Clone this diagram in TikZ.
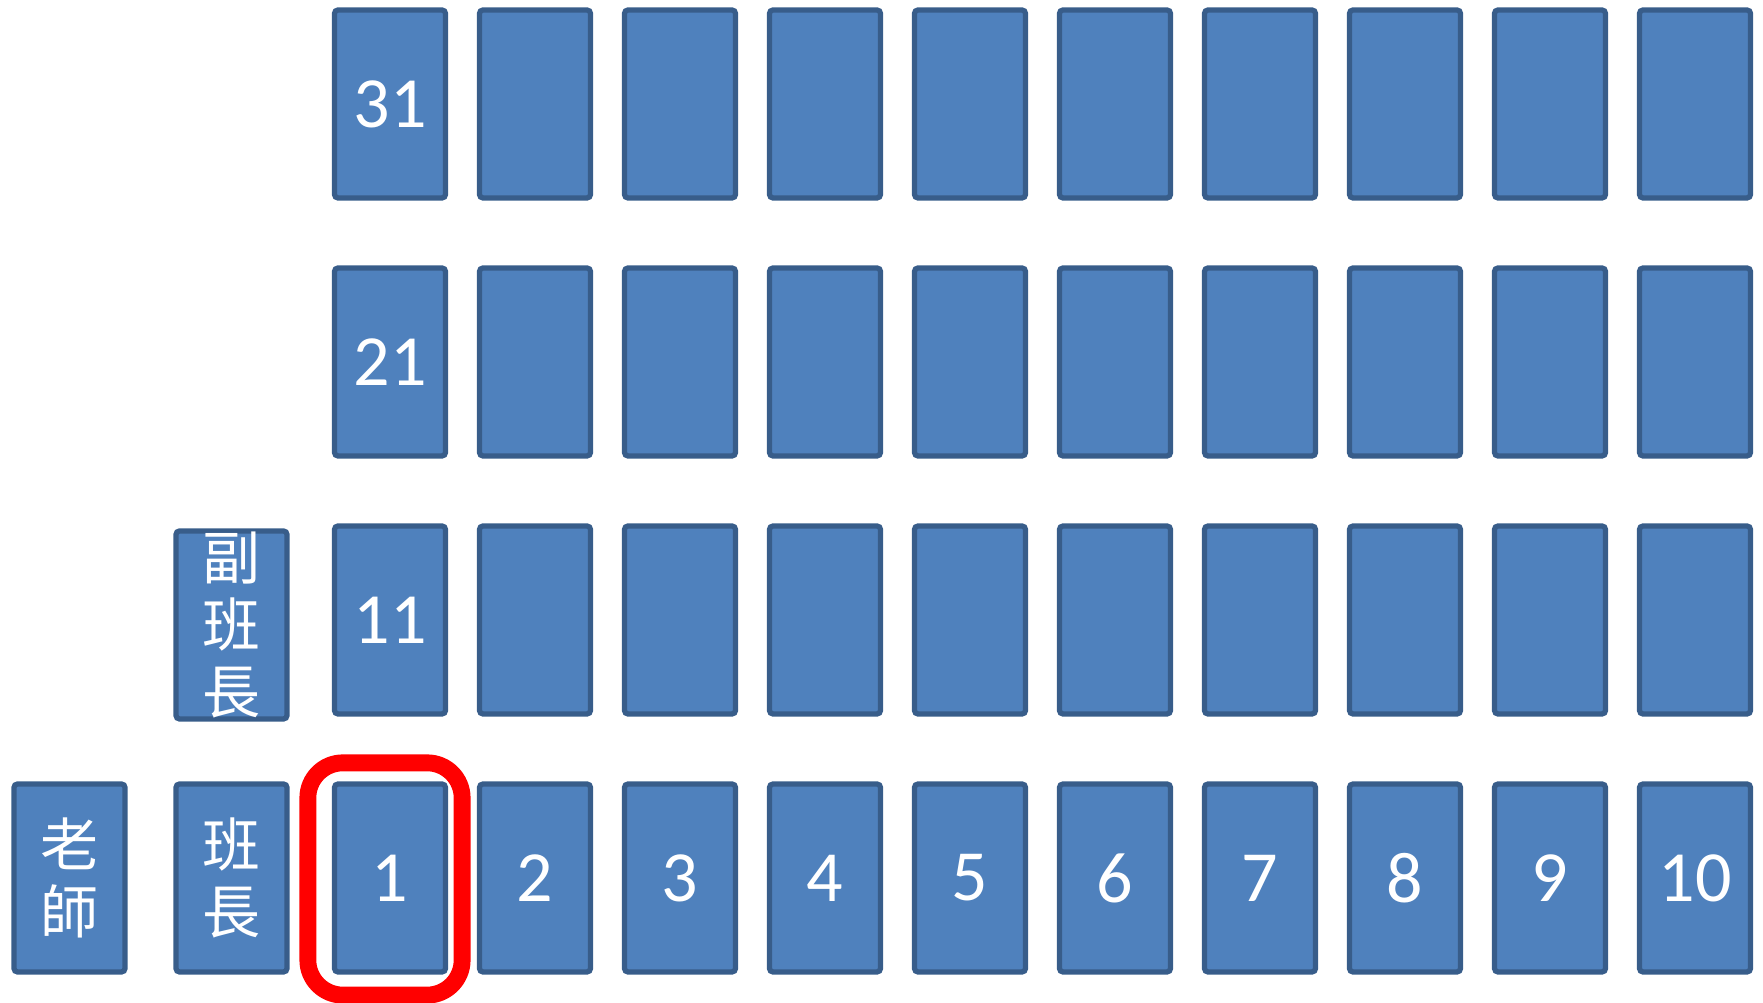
\documentclass[tikz,border=0pt]{standalone}
\usepackage{fontspec}
\setmainfont{Carlito}
\newfontfamily\cjk{Noto Sans CJK TC}
\usepackage{tikz}
\usetikzlibrary{positioning,calc}
\definecolor{seatblue}{HTML}{4F81BD}
\definecolor{seatedge}{HTML}{385D8A}
\tikzset{
  seat/.style={draw=seatedge,fill=seatblue,line width=1.5pt,rounded corners=1pt,
    minimum width=1.11cm,minimum height=1.88cm,inner sep=0pt,text=white,
    font=\fontsize{20.5}{24}\selectfont},
  cjklabel/.style={text=white,align=center,inner sep=0pt,font=\cjk\fontsize{16.5}{19}\selectfont},
  role/.style={seat,label={[cjklabel]center:#1}},
  highlight/.style={draw=red,line width=4.8pt,rounded corners=3.5mm}
}

\begin{document}
\begin{tikzpicture}[node distance=1.45cm]
\useasboundingbox (0,0) rectangle (17.63,10.03);
% front row
\node[seat] (s1) at (3.90,1.25) {1};
\node[seat] (s2)  [right of=s1] {2};
\node[seat] (s3)  [right of=s2] {3};
\node[seat] (s4)  [right of=s3] {4};
\node[seat] (s5)  [right of=s4] {5};
\node[seat] (s6)  [right of=s5] {6};
\node[seat] (s7)  [right of=s6] {7};
\node[seat] (s8)  [right of=s7] {8};
\node[seat] (s9)  [right of=s8] {9};
\node[seat] (s10) [right of=s9] {10};
% second row
\node[seat] (s11) [node distance=2.58cm,above of=s1] {11};
\node[seat] (s12) [right of=s11] {};
\node[seat] (s13) [right of=s12] {};
\node[seat] (s14) [right of=s13] {};
\node[seat] (s15) [right of=s14] {};
\node[seat] (s16) [right of=s15] {};
\node[seat] (s17) [right of=s16] {};
\node[seat] (s18) [right of=s17] {};
\node[seat] (s19) [right of=s18] {};
\node[seat] (s20) [right of=s19] {};
% third row
\node[seat] (s21) [node distance=2.58cm,above of=s11] {21};
\node[seat] (s22) [right of=s21] {};
\node[seat] (s23) [right of=s22] {};
\node[seat] (s24) [right of=s23] {};
\node[seat] (s25) [right of=s24] {};
\node[seat] (s26) [right of=s25] {};
\node[seat] (s27) [right of=s26] {};
\node[seat] (s28) [right of=s27] {};
\node[seat] (s29) [right of=s28] {};
\node[seat] (s30) [right of=s29] {};
% back row
\node[seat] (s31) [node distance=2.58cm,above of=s21] {31};
\node[seat] (s32) [right of=s31] {};
\node[seat] (s33) [right of=s32] {};
\node[seat] (s34) [right of=s33] {};
\node[seat] (s35) [right of=s34] {};
\node[seat] (s36) [right of=s35] {};
\node[seat] (s37) [right of=s36] {};
\node[seat] (s38) [right of=s37] {};
\node[seat] (s39) [right of=s38] {};
\node[seat] (s40) [right of=s39] {};
% teacher and class leaders
\node[role={班\\長}]     (monitor) [node distance=1.585cm,left of=s1] {};
\node[role={老\\師}]     (teacher) [node distance=1.62cm,left of=monitor] {};
\node[role={副\\班\\長}] (vice)    [node distance=2.53cm,above of=monitor] {};
% mark seat 1
\draw[highlight] ($(s1.south west)+(-0.24,-0.205)$) rectangle ($(s1.north east)+(0.14,0.185)$);
\end{tikzpicture}
\end{document}
